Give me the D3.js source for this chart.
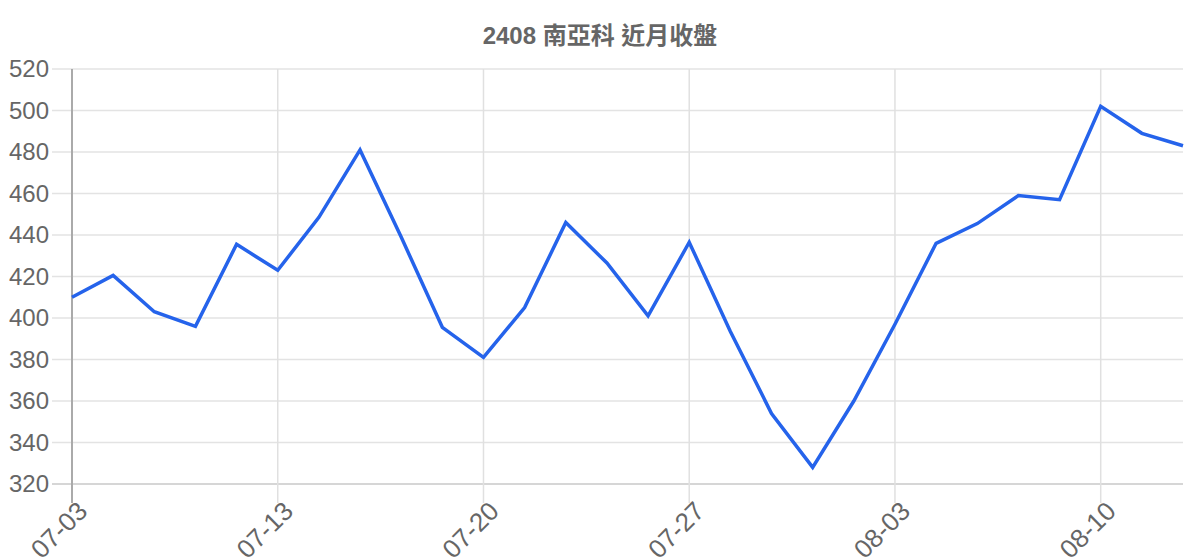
<!DOCTYPE html>
<html>
<head>
<meta charset="utf-8">
<script src="https://cdn.jsdelivr.net/npm/d3@7"></script>
<style>
  html, body { margin: 0; padding: 0; background: #fff; }
  text { font-family: "Liberation Sans", Arial, "Noto Sans CJK TC", sans-serif; fill: #666; }
</style>
</head>
<body>
<div id="chart"></div>
<script>
// 近月收盤
const title = "2408 南亞科 近月收盤";
const dates = ["07-03", "07-05", "07-06", "07-07", "07-10", "07-13", "07-14", "07-17", "07-18", "07-19",
               "07-20", "07-21", "07-24", "07-25", "07-26", "07-27", "07-28", "07-31", "08-01", "08-02",
               "08-03", "08-04", "08-07", "08-08", "08-09", "08-10", "08-11", "08-14"];
const closes = [410, 420.5, 403, 396, 435.5, 423, 448.5, 481, 439, 395.5,
                381, 405, 446, 426.5, 401, 436.5, 393.5, 354, 328, 360,
                397, 436, 445.5, 459, 457, 502, 489, 483];
const yTicks = [320, 340, 360, 380, 400, 420, 440, 460, 480, 500, 520];
const xTickEvery = 5;

const width = 1200, height = 560;
const margin = { top: 69, right: 17, bottom: 76, left: 72 };

const svg = d3.select("#chart")
  .append("svg")
  .attr("width", width)
  .attr("height", height);

const x = d3.scalePoint()
  .domain(dates)
  .range([margin.left, width - margin.right]);

const y = d3.scaleLinear()
  .domain([320, 520])
  .range([height - margin.bottom, margin.top]);

// horizontal grid + y labels
svg.append("g")
  .selectAll("line")
  .data(yTicks)
  .join("line")
  .attr("x1", margin.left - 20)
  .attr("x2", width - margin.right)
  .attr("y1", d => y(d))
  .attr("y2", d => y(d))
  .attr("stroke", d => d === 320 ? "#c8c8c8" : "#e3e3e3")
  .attr("stroke-width", 1.5);

svg.append("g")
  .selectAll("text")
  .data(yTicks)
  .join("text")
  .attr("x", margin.left - 23)
  .attr("y", d => y(d))
  .attr("dy", "0.35em")
  .attr("text-anchor", "end")
  .style("font-size", "24px")
  .text(d => d);

// vertical grid at shown ticks
const shown = dates.filter((d, i) => i % xTickEvery === 0);

svg.append("g")
  .selectAll("line")
  .data(shown)
  .join("line")
  .attr("x1", d => x(d))
  .attr("x2", d => x(d))
  .attr("y1", margin.top)
  .attr("y2", height - margin.bottom + 19)
  .attr("stroke", (d, i) => i === 0 ? "#aaa" : "#e0e0e0")
  .attr("stroke-width", (d, i) => i === 0 ? 2 : 1.5);

svg.append("g")
  .selectAll("text")
  .data(shown)
  .join("text")
  .attr("transform", d => `translate(${x(d) + 4},${height - margin.bottom + 16}) rotate(-45)`)
  .attr("text-anchor", "end")
  .attr("dy", "0.7em")
  .style("font-size", "26px")
  .text(d => d);

// line
const line = d3.line()
  .x((d, i) => x(dates[i]))
  .y(d => y(d));

svg.append("path")
  .datum(closes)
  .attr("d", line)
  .attr("fill", "none")
  .attr("stroke", "#2563eb")
  .attr("stroke-width", 3.5)
  .attr("stroke-linejoin", "miter");

svg.append("text")
  .attr("x", width / 2)
  .attr("y", 36)
  .attr("dy", "0.35em")
  .attr("text-anchor", "middle")
  .style("font-size", "24px")
  .style("font-weight", "bold")
  .text(title);
</script>
</body>
</html>
